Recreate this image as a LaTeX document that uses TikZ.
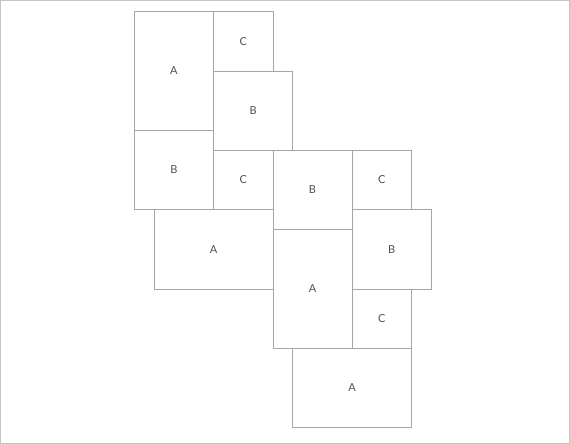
\documentclass[tikz,border=0pt]{standalone}
\usepackage{fontspec}
\setmainfont{Lato}
\definecolor{tile_line}{HTML}{a6a6a6}
\definecolor{tile_text}{HTML}{505050}
\definecolor{frame_gray}{HTML}{c4c4c4}

\begin{document}
\begin{tikzpicture}[x=1pt, y=-1pt,
    tile/.style={draw=tile_line, line width=0.7pt, anchor=north west, inner sep=0pt,
      text=tile_text, font=\fontsize{11}{11}\selectfont},
    tall/.style={tile, minimum width=79.2pt, minimum height=118.8pt},
    wide/.style={tile, minimum width=118.8pt, minimum height=79.2pt},
    sqB/.style={tile, minimum width=79.2pt, minimum height=79.2pt},
    sqC/.style={tile, minimum width=59.4pt, minimum height=59.4pt}]
    \useasboundingbox (0,0) rectangle (570,444);
    \draw[frame_gray, line width=0.8pt] (0.5,0.5) rectangle (569.5,443.5);

    % tiles on a grid of 19.8pt
    \begin{scope}[shift={(134,11.3)}, x=19.8pt, y=-19.8pt]
      % upper left block
      \node[tall] (a1) at (0,0) {A};
      \node[sqC] (c1) at (4,0) {C};
      \node[sqB] (b1) at (4,3) {B};
      \node[sqB] (b2) at (0,6) {B};
      \node[sqC] (c2) at (4,7) {C};

      % middle row
      \node[sqB] (b3) at (7,7) {B};
      \node[sqC] (c3) at (11,7) {C};
      \node[wide] (a2) at (1,10) {A};
      \node[sqB] (b4) at (11,10) {B};

      % lower right block
      \node[tall] (a3) at (7,11) {A};
      \node[sqC] (c4) at (11,14) {C};
      \node[wide] (a4) at (8,17) {A};
    \end{scope}
\end{tikzpicture}
\end{document}
